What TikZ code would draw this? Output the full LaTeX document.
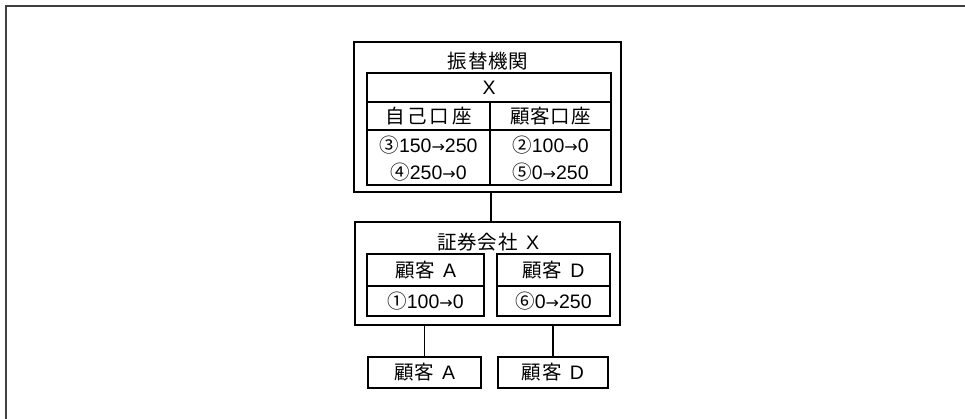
\documentclass[tikz,border=0pt]{standalone}
\usepackage{fontspec}
\setmainfont{Liberation Sans}
\newfontfamily\jp{Noto Sans CJK JP}
\newfontfamily\dv{DejaVu Sans}
\newcommand{\arr}{{\dv\fontsize{16}{18}\selectfont →}}
\begin{document}
\begin{tikzpicture}[x=1pt,y=-1pt,
  font=\fontsize{19.5}{22}\selectfont,
  outerbox/.style={draw, line width=2pt, inner sep=0pt, anchor=center},
  cellbox/.style={draw, line width=1.6pt, inner sep=0pt, anchor=center},
  lbl/.style={inner sep=0pt, anchor=center},
  conn/.style={draw, line width=1.3pt}]
\useasboundingbox (0,0) rectangle (965,419);
% partial frame
\draw[line width=1.6pt, black!75] (6,419) -- (6,6) -- (965,6);
% 振替機関
\node[outerbox, minimum width=267pt, minimum height=150pt] (fk) at (487.5,117) {};
\node[lbl] (fkt) at (488,61) {\jp 振\kern1pt替\kern1pt機\kern1pt関};
\node[cellbox, minimum width=244pt, minimum height=29pt] (x) at (489,87.5) {X};
\node[cellbox, minimum width=123pt, minimum height=28pt] (hl) at (428.5,116) {\jp 自\kern3pt己\kern3pt口\kern3pt座};
\node[cellbox, minimum width=121pt, minimum height=28pt] (hr) at (550.5,116) {\jp 顧\kern1pt客\kern1pt口\kern1pt座};
\node[cellbox, minimum width=123pt, minimum height=55pt] (vl) at (428.5,157.5) {};
\node[cellbox, minimum width=121pt, minimum height=55pt] (vr) at (550.5,157.5) {};
\node[lbl] (vl1) at (428.5,145.5) {{\jp ③}150\arr250};
\node[lbl] (vl2) at (428.5,172.5) {{\jp ④}250\arr0};
\node[lbl] (vr1) at (550.5,145.5) {{\jp ②}100\arr0};
\node[lbl] (vr2) at (550.5,172.5) {{\jp ⑤}0\arr250};
% 証券会社 X
\node[outerbox, minimum width=265pt, minimum height=103pt] (sx) at (487.5,273.5) {};
\node[lbl] (sxt) at (488,242) {{\jp 証\kern1pt券\kern1pt会\kern1pt社}\kern8pt X};
\node[cellbox, minimum width=117pt, minimum height=32pt] (ah) at (425.5,270) {{\jp 顧\kern1pt客}\kern8pt A};
\node[cellbox, minimum width=117pt, minimum height=30pt] (av) at (425.5,301) {{\jp ①}100\arr0};
\node[cellbox, minimum width=113pt, minimum height=32pt] (dh) at (553.5,270) {{\jp 顧\kern1pt客}\kern8pt D};
\node[cellbox, minimum width=113pt, minimum height=30pt] (dv) at (553.5,301) {{\jp ⑥}0\arr250};
% bottom customers
\node[cellbox, minimum width=113pt, minimum height=31pt] (ba) at (424.5,372.5) {{\jp 顧\kern1pt客}\kern8pt A};
\node[cellbox, minimum width=110pt, minimum height=31pt] (bd) at (553,372.5) {{\jp 顧\kern1pt客}\kern8pt D};
% connectors
\draw[conn, line width=1.8pt] (vl.south east |- fk.south) -- (vl.south east |- sx.north);
\draw[conn] (ba.north |- sx.south) -- (ba.north);
\draw[conn] (bd.north |- sx.south) -- (bd.north);
\end{tikzpicture}
\end{document}
